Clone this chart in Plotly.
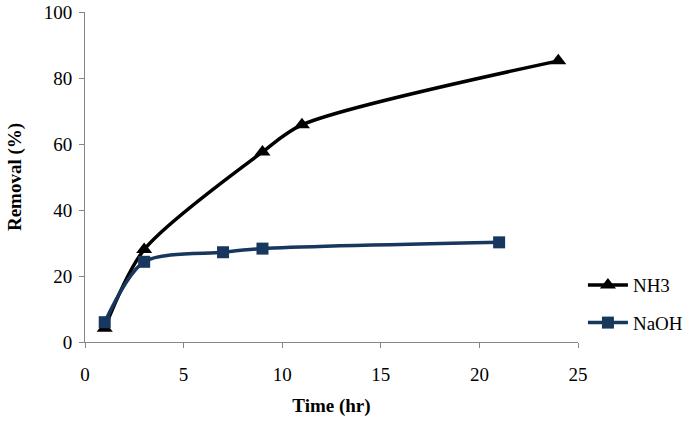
import plotly.graph_objects as go

nh3_time = [1, 3, 9, 11, 24]
nh3_removal = [4.2, 28, 57.6, 65.8, 85.2]
naoh_time = [1, 3, 7, 9, 21]
naoh_removal = [6, 24.3, 27.2, 28.3, 30.2]

x_ticks = [0, 5, 10, 15, 20, 25]
y_ticks = [0, 20, 40, 60, 80, 100]

font = "Liberation Serif"

fig = go.Figure()
fig.add_trace(go.Scatter(
    x=nh3_time, y=nh3_removal, name="NH3", mode="lines+markers",
    line=dict(color="#000000", width=3.5, shape="spline", smoothing=0.8),
    marker=dict(symbol="triangle-up", size=14, color="#000000"),
    cliponaxis=False, legendgroup="a"))
fig.add_trace(go.Scatter(
    x=naoh_time, y=naoh_removal, name="NaOH", mode="lines+markers",
    line=dict(color="#17375E", width=3.5, shape="spline", smoothing=0.8),
    marker=dict(symbol="square", size=12, color="#17375E"),
    cliponaxis=False, legendgroup="b"))

axis_common = dict(showline=True, linecolor="#868686", linewidth=1,
                   ticks="outside", ticklen=5, tickcolor="#868686",
                   showgrid=False, zeroline=False, automargin=False,
                   tickfont=dict(family=font, size=19, color="#000000"))

fig.update_layout(
    width=696, height=428,
    margin=dict(l=85, r=118, t=12, b=86, autoexpand=False),
    paper_bgcolor="white", plot_bgcolor="white",
    font=dict(family=font, size=19, color="#000000"),
    xaxis=dict(range=[0, 25], tickvals=x_ticks, ticklabelstandoff=10,
               title=dict(text="<b>Time (hr)</b>", font=dict(family=font, size=19), standoff=14),
               **axis_common),
    yaxis=dict(range=[0, 100], tickvals=y_ticks, ticklabelstandoff=3,
               title=dict(text="<b>Removal (%)</b>", font=dict(family=font, size=19), standoff=17),
               **axis_common),
    legend=dict(x=1.01, y=0.115, xanchor="left", yanchor="middle",
                font=dict(family=font, size=19), itemwidth=40,
                tracegroupgap=10, traceorder="grouped",
                bgcolor="rgba(0,0,0,0)"),
    showlegend=True,
)

fig.write_html("out.html")
